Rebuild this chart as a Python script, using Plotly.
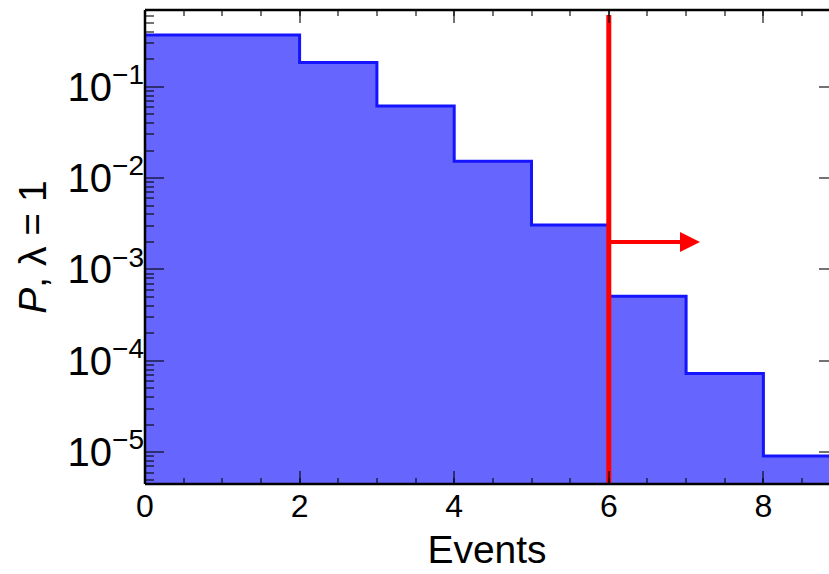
import math
import plotly.graph_objects as go

# Data: Poisson probabilities (lambda = 1) per unit bin
bin_edges = [0, 1, 2, 3, 4, 5, 6, 7, 8, 9]
probs = [0.368, 0.368, 0.184, 0.0613, 0.0153, 0.00307, 0.000511, 0.0000730, 0.00000912]
cut_x = 6
cut_line_y = [0.61, 4.0e-6]
arrow_y = 0.002
arrow_end_x = 7.18
x_ticks = [0, 2, 4, 6, 8]

FONT = "Liberation Sans, Arial, Helvetica, sans-serif"
FILL = "rgb(102,102,255)"
EDGE = "rgb(20,20,255)"
TICKC = "rgba(0,0,0,0.55)"

centers = [(bin_edges[i] + bin_edges[i + 1]) / 2 for i in range(len(probs))]

fig = go.Figure()
fig.add_trace(go.Bar(x=centers, y=probs, width=1, marker=dict(color=FILL, line=dict(width=0)),
                     showlegend=False, hoverinfo="skip"))
fig.add_trace(go.Scatter(x=bin_edges, y=probs + [probs[-1]], mode="lines",
                         line=dict(shape="hv", color=EDGE, width=3), showlegend=False))
fig.add_trace(go.Scatter(x=[cut_x, cut_x], y=cut_line_y, mode="lines",
                         line=dict(color="red", width=5), showlegend=False))

fig.add_annotation(x=arrow_end_x, y=math.log10(arrow_y), ax=cut_x, ay=math.log10(arrow_y),
                   xref="x", yref="y", axref="x", ayref="y", text="", showarrow=True,
                   arrowhead=2, arrowsize=1, arrowwidth=4, arrowcolor="red", standoff=0)

W, H = 829, 574
ml, mt, mb = 145, 10, 90
fig.update_layout(
    width=W, height=H,
    margin=dict(l=ml, r=0, t=mt, b=mb),
    plot_bgcolor="white", paper_bgcolor="white",
    bargap=0,
    font=dict(family=FONT, size=32, color="black"),
    xaxis=dict(range=[0, (W - ml) / 77.3], tickvals=x_ticks, ticks="inside", ticklen=13,
               tickwidth=2, tickcolor=TICKC, showline=False, mirror="ticks", showgrid=False,
               zeroline=False,
               minor=dict(dtick=0.5, ticks="inside", ticklen=6, tickwidth=2, tickcolor=TICKC, showgrid=False),
               title=dict(text="Events", font=dict(size=39), standoff=12)),
    yaxis=dict(type="log", range=[-5.347, -0.161], dtick=1, exponentformat="power",
               ticks="inside", ticklen=19, tickwidth=2, tickcolor=TICKC, showline=False,
               showgrid=False, zeroline=False,
               minor=dict(dtick="D1", ticks="inside", ticklen=9, tickwidth=2, tickcolor=TICKC, showgrid=False),
               title=dict(text="<i>P</i>, λ = 1", font=dict(size=39), standoff=8)),
    yaxis2=dict(type="log", range=[-5.347, -0.161], dtick=1, overlaying="y", side="right",
                ticks="inside", ticklen=10, tickwidth=2, tickcolor=TICKC, showticklabels=False,
                showgrid=False, zeroline=False, showline=False),
)
# dummy trace to activate yaxis2
fig.add_trace(go.Scatter(x=[None], y=[None], yaxis="y2", showlegend=False))

# frame lines (left, bottom, top); right side lies beyond the visible window
for x0, y0, x1, y1 in [(0, 0, 0, 1), (0, 0, 1, 0), (0, 1, 1, 1)]:
    fig.add_shape(type="line", xref="paper", yref="paper", x0=x0, y0=y0, x1=x1, y1=y1,
                  line=dict(color="black", width=2.5))

fig.write_html("out.html", config={"displayModeBar": False},
               post_script="document.body.style.margin='0';")
